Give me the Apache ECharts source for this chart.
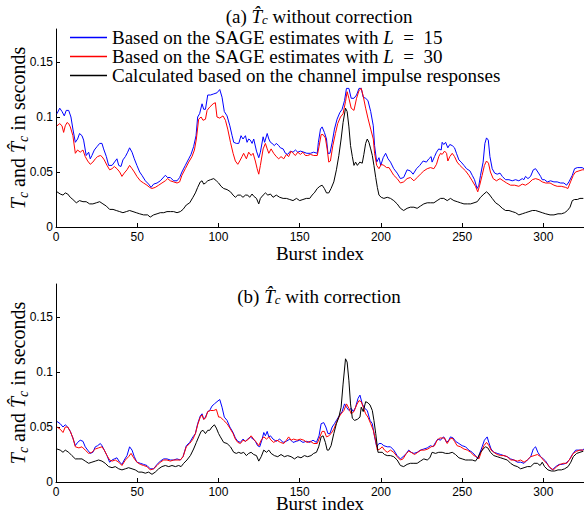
<!DOCTYPE html>
<html><head><meta charset="utf-8">
<script src="https://cdn.jsdelivr.net/npm/echarts@6/dist/echarts.min.js"></script>
<style>html,body{margin:0;padding:0;background:#fff}#c{width:584px;height:512px}</style>
</head><body><div id="c"></div>
<script>
// ---------- data ----------
const seriesNames = [
  'Based on the SAGE estimates with L = 15',
  'Based on the SAGE estimates with L = 30',
  'Calculated based on the channel impulse responses'
];
const seriesColors = ['#0000ff', '#ff0000', '#000000'];
const xTicks = [0, 50, 100, 150, 200, 250, 300];
const yTicks = [0, 0.05, 0.1, 0.15];
const xMax = 325;
const yMax = 0.18;

// (a) without correction  [burst index, seconds]
const topBlue = [[0.6,0.103],[2.3,0.108],[3.7,0.105],[5.1,0.101],[6.3,0.106],[7.8,0.106],[9.2,0.100],[10.4,0.089],[11.9,0.077],[13.3,0.080],[14.5,0.085],[16,0.083],[17,0.079],[18.6,0.065],[20.1,0.068],[21.1,0.062],[22.1,0.065],[23.6,0.070],[25.2,0.073],[26.9,0.076],[28.3,0.076],[29.3,0.071],[31,0.064],[32.4,0.056],[34.5,0.056],[36.5,0.060],[37.5,0.062],[38.6,0.056],[40,0.055],[41.2,0.061],[42.7,0.064],[44.1,0.068],[45.3,0.072],[46.8,0.068],[48.2,0.062],[49.8,0.056],[51.5,0.050],[52.9,0.047],[55,0.042],[57,0.039],[58.5,0.036],[60.1,0.039],[62.2,0.040],[64.2,0.042],[67.3,0.047],[68.7,0.045],[70.4,0.045],[72.4,0.042],[74.5,0.042],[76.1,0.045],[77.5,0.050],[79.6,0.056],[81.7,0.062],[83.1,0.066],[84.7,0.073],[86.2,0.083],[87.2,0.100],[88.4,0.103],[89.9,0.112],[90.9,0.107],[92,0.107],[93.4,0.120],[95.1,0.120],[97.1,0.121],[99.1,0.122],[100.8,0.125],[102.2,0.118],[103.6,0.105],[105.3,0.101],[107,0.092],[108.4,0.083],[109.4,0.077],[111,0.076],[112.5,0.076],[113.9,0.083],[115.1,0.080],[116.6,0.083],[117.6,0.077],[118.6,0.080],[119.6,0.079],[120.7,0.076],[121.7,0.080],[123.4,0.069],[124.8,0.063],[125.8,0.068],[127.5,0.082],[128.4,0.077],[130,0.085],[131,0.080],[132,0.077],[133,0.076],[134.4,0.074],[135.6,0.076],[137.1,0.074],[138.1,0.072],[139.8,0.071],[141.2,0.067],[142.6,0.066],[144.3,0.069],[145.9,0.068],[147.4,0.070],[148.8,0.068],[150.4,0.069],[152.6,0.068],[154.4,0.067],[156.6,0.067],[158.6,0.068],[160.8,0.067],[161.5,0.077],[162.8,0.089],[163.8,0.091],[165.2,0.086],[166.5,0.080],[167.4,0.067],[168.6,0.067],[170,0.077],[171.4,0.089],[173,0.098],[174.7,0.104],[176.1,0.107],[177.6,0.115],[178.8,0.126],[180.3,0.126],[181.7,0.117],[183.4,0.117],[185,0.120],[186.5,0.126],[187.9,0.126],[189.1,0.118],[190.6,0.117],[192,0.115],[193.7,0.105],[195.3,0.092],[196.1,0.074],[197.4,0.059],[198.8,0.063],[199.9,0.056],[201.4,0.063],[202.9,0.067],[204.4,0.062],[205.9,0.059],[207.9,0.053],[210,0.049],[212,0.044],[214,0.045],[216.1,0.052],[218.1,0.051],[219.8,0.048],[221.9,0.053],[223.9,0.056],[226,0.060],[228,0.059],[229.5,0.062],[230.9,0.064],[231.5,0.059],[233,0.064],[234.2,0.068],[235.6,0.071],[237.1,0.070],[237.7,0.077],[238.7,0.075],[239.8,0.077],[241.2,0.072],[242.4,0.075],[243.9,0.074],[245.3,0.072],[246.5,0.067],[248,0.061],[249.4,0.059],[251.1,0.056],[252.7,0.053],[254.8,0.051],[256.2,0.047],[257.6,0.043],[259.2,0.035],[260.3,0.038],[261.3,0.047],[262.9,0.059],[264,0.076],[265,0.081],[266.1,0.079],[267.1,0.064],[268.5,0.053],[270,0.049],[271.6,0.048],[273.3,0.049],[274.7,0.046],[276.7,0.043],[278.8,0.043],[280.8,0.042],[282.9,0.043],[284.9,0.042],[287,0.044],[288,0.043],[289,0.046],[290.5,0.044],[292.1,0.046],[293.8,0.052],[295.2,0.053],[296.6,0.050],[298.3,0.046],[299.3,0.043],[300.7,0.043],[302.4,0.041],[304.4,0.042],[306.5,0.041],[308.5,0.041],[310.6,0.040],[312.6,0.040],[314.3,0.038],[315.7,0.041],[317.8,0.047],[319.2,0.053],[320.9,0.054],[322.5,0.054],[323.9,0.054],[325,0.053]];
const topRed = [[0.6,0.092],[2.3,0.094],[3.7,0.092],[4.7,0.086],[5.7,0.092],[6.8,0.095],[7.8,0.094],[8.8,0.091],[10.4,0.083],[11.9,0.067],[13.3,0.070],[14.9,0.068],[16.6,0.070],[18,0.064],[19.5,0.060],[21.1,0.057],[22.7,0.059],[24.2,0.062],[25.6,0.064],[27.3,0.065],[28.3,0.064],[29.7,0.061],[31.4,0.056],[33,0.052],[34.5,0.053],[35.9,0.055],[37.5,0.053],[39.2,0.050],[40.6,0.046],[42,0.049],[43.7,0.052],[45.3,0.056],[46.8,0.053],[48.2,0.050],[49.8,0.046],[51.9,0.042],[53.9,0.040],[56,0.038],[57.6,0.036],[59,0.035],[61.1,0.036],[63.2,0.038],[65.2,0.040],[67.3,0.042],[68.7,0.044],[70.4,0.042],[72.4,0.041],[74.5,0.040],[76.1,0.041],[77.5,0.047],[79.6,0.053],[81.7,0.059],[83.7,0.064],[85.2,0.070],[86.4,0.080],[87.8,0.098],[89.3,0.100],[90.5,0.097],[92,0.098],[93,0.106],[94.6,0.109],[96.7,0.112],[98.1,0.113],[99.1,0.100],[100.8,0.099],[102.8,0.101],[104.3,0.097],[105.7,0.089],[107.4,0.077],[109,0.067],[110.4,0.060],[111.9,0.057],[113.1,0.060],[114.5,0.064],[115.5,0.067],[117.2,0.062],[118.6,0.068],[120.1,0.065],[121.3,0.067],[122.7,0.060],[123.8,0.053],[124.8,0.048],[125.8,0.056],[127.5,0.071],[128.9,0.076],[130,0.071],[131,0.067],[132.4,0.071],[134,0.067],[135.6,0.064],[137.1,0.062],[138.5,0.064],[140.2,0.062],[141.8,0.066],[143.2,0.064],[144.7,0.069],[145.9,0.067],[147.4,0.065],[148.8,0.068],[150.4,0.066],[152,0.068],[153.5,0.065],[154.9,0.065],[156.6,0.066],[158.6,0.065],[160.8,0.065],[161.9,0.073],[163.2,0.084],[164.4,0.084],[165.8,0.081],[166.9,0.071],[167.9,0.059],[168.9,0.060],[170.4,0.074],[172,0.085],[173.4,0.094],[175.1,0.100],[176.7,0.103],[178.2,0.114],[179.2,0.123],[180.3,0.117],[181.7,0.108],[183.4,0.106],[185,0.117],[186.5,0.124],[187.9,0.126],[189.1,0.119],[190.6,0.108],[192,0.099],[193.7,0.089],[195.3,0.080],[196.1,0.067],[197.4,0.056],[198.8,0.053],[200.2,0.057],[201.8,0.056],[203.5,0.054],[205,0.054],[207.9,0.047],[210,0.044],[212,0.040],[214,0.041],[216.1,0.044],[218.1,0.045],[220.3,0.042],[222.3,0.045],[224.3,0.048],[226.4,0.051],[228.5,0.053],[230.5,0.054],[232.6,0.053],[234.2,0.057],[235.6,0.064],[236.7,0.067],[237.7,0.066],[239.2,0.069],[240.4,0.067],[241.2,0.060],[242.4,0.064],[243.9,0.067],[245.3,0.064],[246.9,0.059],[248.6,0.056],[250,0.054],[252.1,0.051],[254.1,0.047],[256.2,0.042],[258.2,0.037],[259.6,0.032],[260.8,0.038],[262.3,0.047],[263.7,0.056],[265,0.060],[266.2,0.058],[267.4,0.050],[269.1,0.044],[271.1,0.042],[273.3,0.044],[275.3,0.042],[277.4,0.040],[279.8,0.038],[282.3,0.038],[284.9,0.037],[287,0.039],[289,0.038],[291.1,0.040],[293.2,0.043],[295.2,0.044],[297.3,0.043],[299.3,0.041],[301.4,0.040],[304.1,0.040],[306.5,0.038],[308.5,0.037],[311,0.037],[313.7,0.036],[315.1,0.035],[316.7,0.041],[318.4,0.047],[319.8,0.050],[321.9,0.051],[323.9,0.052],[325,0.052]];
const topBlack = [[0.6,0.032],[2.6,0.030],[4.3,0.029],[5.7,0.031],[7.2,0.030],[8.8,0.027],[10.4,0.025],[12.5,0.022],[14.5,0.024],[16.6,0.023],[18.6,0.023],[20.7,0.021],[22.7,0.021],[24.8,0.022],[26.9,0.023],[28.9,0.021],[31,0.019],[33,0.016],[35.1,0.016],[37.1,0.015],[39.2,0.014],[41.2,0.013],[43.3,0.014],[45.3,0.015],[47.4,0.014],[49.4,0.013],[51.5,0.012],[53.9,0.011],[56.4,0.011],[58,0.009],[60.1,0.011],[62.2,0.012],[64.2,0.013],[66.3,0.013],[68.3,0.014],[70.4,0.014],[72.4,0.014],[74.5,0.013],[76.5,0.014],[78.2,0.016],[80.2,0.020],[82.3,0.022],[84.3,0.027],[85.8,0.031],[87.2,0.036],[88.8,0.041],[89.9,0.042],[90.9,0.039],[92,0.040],[93.4,0.042],[95.1,0.043],[97.1,0.044],[98.7,0.042],[100.1,0.040],[101.6,0.037],[103.2,0.035],[105.3,0.034],[107.4,0.032],[109,0.029],[110.4,0.027],[111.9,0.029],[113.5,0.029],[115.1,0.027],[116.6,0.029],[118,0.029],[119.2,0.027],[120.7,0.030],[121.7,0.028],[123.4,0.026],[124.8,0.021],[125.8,0.026],[127.5,0.029],[128.9,0.031],[130.4,0.029],[132,0.030],[133.6,0.027],[135.6,0.029],[137.7,0.027],[139.8,0.026],[141.8,0.026],[143.9,0.025],[145.9,0.024],[148,0.026],[150,0.024],[152,0.025],[154.1,0.026],[156.2,0.026],[157.6,0.029],[159,0.031],[160.8,0.035],[162.4,0.037],[163.8,0.038],[165.2,0.035],[166.5,0.031],[167.9,0.031],[169.3,0.035],[171,0.041],[172.6,0.052],[174.1,0.065],[175.5,0.080],[176.7,0.095],[178.2,0.108],[179.2,0.105],[180.3,0.091],[181.3,0.074],[182.4,0.064],[183.4,0.056],[184.4,0.059],[185.5,0.056],[187,0.059],[188.5,0.058],[189.5,0.066],[190.6,0.076],[191.6,0.080],[192.6,0.077],[193.7,0.071],[194.7,0.065],[195.7,0.056],[196.8,0.045],[197.8,0.036],[198.8,0.029],[200.2,0.027],[201.8,0.026],[203.9,0.027],[205.9,0.026],[207.9,0.024],[210,0.021],[212,0.017],[214,0.015],[216.1,0.017],[218.1,0.018],[220.3,0.018],[222.3,0.017],[224.3,0.019],[226.4,0.021],[228.5,0.022],[230.5,0.022],[232.6,0.022],[234.6,0.024],[236.7,0.026],[238.7,0.026],[240.8,0.024],[242.8,0.026],[244.9,0.024],[247,0.023],[249,0.022],[251.1,0.021],[253.2,0.021],[255.2,0.021],[257.3,0.022],[259.3,0.023],[261.3,0.027],[263.4,0.030],[265,0.032],[266.5,0.030],[268.5,0.026],[270.6,0.022],[272.6,0.020],[274.7,0.017],[276.7,0.015],[278.8,0.015],[280.8,0.014],[282.9,0.013],[284.9,0.011],[287,0.012],[289,0.013],[291.1,0.014],[293.2,0.015],[295.2,0.015],[297.3,0.014],[299.3,0.013],[301.4,0.012],[304.1,0.011],[306.5,0.011],[309,0.012],[311.1,0.012],[313.1,0.013],[314.8,0.015],[316.4,0.018],[317.8,0.024],[319.2,0.025],[320.9,0.025],[322.5,0.026],[324.6,0.026]];

// (b) with correction
const botBlue = [[0.6,0.055],[2.6,0.053],[4.3,0.050],[5.7,0.052],[7.2,0.050],[8.8,0.046],[10.4,0.040],[11.9,0.033],[13.3,0.036],[14.9,0.038],[16.6,0.037],[18,0.032],[19.5,0.029],[21.1,0.026],[22.7,0.027],[24.2,0.032],[25.6,0.033],[27.3,0.035],[28.3,0.033],[29.7,0.029],[31.4,0.024],[33,0.018],[34.5,0.020],[35.9,0.021],[37.5,0.022],[39.2,0.018],[40.6,0.016],[42,0.020],[43.7,0.024],[45.3,0.032],[46.8,0.029],[48.2,0.023],[49.8,0.018],[51.9,0.017],[53.9,0.016],[56,0.015],[58,0.012],[60.1,0.012],[62.2,0.016],[64.2,0.019],[66.3,0.021],[68.3,0.021],[70.4,0.020],[72.4,0.020],[74.5,0.021],[76.5,0.020],[78.2,0.023],[80.2,0.033],[82.3,0.036],[84.3,0.041],[85.8,0.044],[87.2,0.053],[88.8,0.060],[89.9,0.062],[90.9,0.057],[92,0.059],[93.4,0.064],[94.6,0.065],[96,0.069],[97.5,0.071],[99.1,0.073],[100.8,0.075],[102.2,0.068],[103.6,0.059],[105.3,0.056],[107,0.050],[109,0.045],[110.4,0.040],[111.9,0.037],[113.5,0.036],[115.1,0.039],[116.6,0.037],[118,0.039],[119.6,0.041],[121.3,0.039],[122.7,0.037],[124.1,0.033],[125.4,0.032],[126.9,0.039],[127.9,0.045],[128.9,0.042],[130,0.046],[131,0.041],[132,0.042],[133.6,0.039],[135.6,0.037],[137.7,0.039],[139.8,0.036],[141.8,0.037],[143.9,0.039],[145.9,0.036],[148,0.037],[150,0.038],[152,0.036],[154.1,0.037],[156.2,0.036],[158.2,0.038],[160.3,0.036],[161.9,0.042],[163.2,0.053],[164.8,0.054],[166.1,0.050],[167.4,0.044],[168.6,0.044],[170,0.050],[171.4,0.053],[173,0.057],[174.7,0.061],[176.1,0.064],[177.6,0.071],[178.8,0.068],[180.3,0.065],[181.7,0.067],[183,0.064],[184.4,0.068],[185.9,0.076],[187.1,0.079],[188.5,0.071],[190,0.067],[191.6,0.065],[193.3,0.056],[194.7,0.053],[196.1,0.041],[197.4,0.032],[198.8,0.035],[200.2,0.035],[201.8,0.033],[203.9,0.032],[205.9,0.032],[207.9,0.029],[210,0.024],[212,0.021],[213.6,0.023],[215.7,0.026],[217.1,0.029],[218.6,0.027],[220.3,0.026],[222.3,0.027],[224.3,0.029],[226.4,0.030],[228.5,0.031],[230.5,0.033],[232.1,0.032],[233.6,0.036],[235,0.039],[236.7,0.038],[237.7,0.040],[238.7,0.041],[240.4,0.036],[241.8,0.038],[242.8,0.041],[244.5,0.040],[245.9,0.037],[248,0.035],[250,0.033],[252.1,0.032],[254.1,0.029],[256.2,0.027],[258.2,0.024],[259.6,0.021],[260.8,0.026],[262.3,0.032],[263.7,0.038],[265.4,0.041],[266.4,0.036],[267.8,0.030],[269.5,0.027],[271.6,0.026],[273.7,0.025],[275.7,0.024],[277.8,0.023],[279.8,0.021],[281.9,0.020],[284,0.018],[286,0.018],[288.1,0.017],[290.1,0.020],[292.2,0.023],[293.8,0.030],[295.2,0.032],[296.6,0.027],[298.3,0.023],[300,0.021],[301.4,0.019],[303.5,0.014],[305.5,0.011],[307.6,0.014],[309.7,0.016],[311.7,0.016],[313.8,0.017],[315.9,0.020],[317.8,0.025],[319.9,0.029],[322,0.029],[324,0.029],[325,0.030]];
const botRed = [[0.6,0.050],[2.6,0.048],[4.3,0.045],[5.7,0.050],[7.2,0.050],[8.8,0.046],[10.4,0.040],[11.9,0.032],[14.1,0.031],[16,0.032],[18,0.029],[20.1,0.026],[22.1,0.027],[24.2,0.030],[26.2,0.031],[28.3,0.032],[29.7,0.029],[31.4,0.024],[33,0.020],[34.5,0.019],[36.5,0.020],[38.6,0.018],[40.6,0.015],[42.7,0.020],[44.7,0.023],[46.2,0.026],[47.8,0.022],[49.8,0.018],[51.9,0.016],[53.9,0.015],[56,0.014],[58,0.011],[60.1,0.012],[62.2,0.015],[64.2,0.018],[66.3,0.020],[68.3,0.020],[70.4,0.019],[72.4,0.020],[74.5,0.020],[76.5,0.020],[78.2,0.023],[80.2,0.032],[82.3,0.035],[84.3,0.039],[85.8,0.044],[87.2,0.052],[88.8,0.059],[89.9,0.061],[90.9,0.057],[92,0.058],[93.4,0.064],[95.1,0.065],[97.1,0.065],[98.7,0.066],[100.1,0.059],[101.2,0.059],[103.2,0.056],[105.3,0.053],[107,0.049],[109,0.044],[110.4,0.039],[111.9,0.036],[113.5,0.035],[115.1,0.038],[116.6,0.037],[118.6,0.039],[120.1,0.042],[121.7,0.039],[123.4,0.036],[124.8,0.033],[126.3,0.038],[127.9,0.041],[129.6,0.039],[131,0.041],[132.4,0.038],[134,0.036],[136,0.038],[138.1,0.036],[140.2,0.035],[141.8,0.038],[143.2,0.041],[144.7,0.038],[146.3,0.039],[148.4,0.038],[150.4,0.039],[152.5,0.038],[154.5,0.036],[156.6,0.037],[158.6,0.035],[160.8,0.035],[162.4,0.041],[163.8,0.046],[165.2,0.046],[166.5,0.041],[167.9,0.042],[169.3,0.044],[171,0.048],[172.6,0.054],[174.1,0.059],[175.5,0.062],[177.2,0.065],[178.8,0.071],[180.3,0.067],[181.7,0.062],[183.4,0.064],[185,0.070],[186.5,0.074],[187.9,0.073],[189.1,0.068],[190.6,0.062],[192,0.059],[193.7,0.053],[195.3,0.047],[196.7,0.038],[197.8,0.029],[199.4,0.030],[200.8,0.032],[202.2,0.029],[203.9,0.027],[205.9,0.029],[207.9,0.027],[210,0.023],[212,0.020],[213.6,0.021],[215.7,0.026],[217.1,0.028],[218.6,0.027],[220.7,0.025],[222.7,0.027],[224.7,0.029],[226.8,0.029],[228.9,0.030],[230.9,0.032],[233,0.033],[234.6,0.038],[236.3,0.040],[237.7,0.040],[239.2,0.040],[240.8,0.035],[242.4,0.039],[243.9,0.040],[245.3,0.037],[246.9,0.033],[249,0.032],[251.1,0.030],[253.2,0.029],[255.2,0.027],[257.3,0.024],[258.9,0.023],[260.3,0.021],[261.7,0.027],[263.4,0.033],[265,0.036],[266.5,0.033],[267.8,0.029],[269.5,0.027],[271.6,0.025],[273.7,0.024],[275.7,0.024],[277.8,0.023],[279.8,0.020],[281.9,0.020],[284,0.019],[286,0.020],[288.1,0.018],[290.1,0.020],[292.2,0.023],[294.3,0.024],[296.3,0.025],[298.3,0.023],[300,0.020],[302,0.017],[304.1,0.013],[306.2,0.011],[308.2,0.014],[310.3,0.016],[312.3,0.017],[314.4,0.017],[316.4,0.021],[318.4,0.026],[320.5,0.028],[322.5,0.029],[324.6,0.029]];
const botBlack = [[0.6,0.030],[2.6,0.029],[4.3,0.027],[5.7,0.029],[7.8,0.027],[9.8,0.024],[11.9,0.021],[14.1,0.021],[16,0.021],[18,0.019],[20.1,0.017],[22.1,0.018],[24.2,0.019],[26.2,0.020],[28.3,0.019],[30.3,0.017],[32.4,0.014],[34.5,0.013],[36.5,0.014],[38.6,0.012],[40.6,0.011],[42.7,0.012],[44.7,0.013],[46.8,0.012],[48.8,0.011],[50.9,0.009],[52.9,0.009],[55,0.008],[57,0.009],[59.1,0.007],[61.1,0.009],[63.2,0.012],[65.2,0.014],[67.3,0.015],[69.4,0.014],[71.4,0.015],[73.5,0.014],[75.5,0.015],[77,0.014],[78.6,0.017],[80.6,0.020],[82.7,0.024],[84.7,0.030],[86.4,0.036],[87.8,0.041],[89.3,0.046],[90.5,0.047],[92,0.044],[93.4,0.047],[94.6,0.047],[96,0.050],[97.5,0.052],[98.7,0.049],[100.1,0.044],[101.2,0.041],[103.2,0.036],[105.3,0.035],[107.4,0.032],[109.4,0.027],[111,0.026],[112.5,0.027],[113.9,0.026],[115.5,0.027],[117.2,0.024],[118.6,0.026],[120.1,0.027],[121.7,0.025],[123.4,0.024],[124.8,0.019],[126.3,0.023],[127.9,0.029],[129.6,0.027],[131,0.029],[132.4,0.026],[134.4,0.024],[136.5,0.023],[138.5,0.025],[140.6,0.023],[142.6,0.024],[144.7,0.023],[146.8,0.021],[148.8,0.023],[150.8,0.022],[152.9,0.024],[154.9,0.023],[157,0.024],[158.6,0.026],[160.3,0.027],[161.7,0.032],[163.2,0.041],[164.4,0.042],[165.8,0.036],[166.9,0.029],[167.9,0.029],[169.3,0.033],[171,0.044],[172.6,0.053],[174.1,0.059],[175.5,0.068],[176.7,0.089],[178.2,0.112],[179.2,0.109],[180.3,0.092],[181.3,0.071],[182.4,0.058],[183.8,0.056],[185.5,0.057],[187.1,0.059],[187.9,0.068],[189.1,0.064],[190.6,0.073],[192,0.072],[193.3,0.070],[194.7,0.065],[195.7,0.056],[196.8,0.044],[198.2,0.027],[199.4,0.027],[200.8,0.027],[202.2,0.025],[203.9,0.024],[205.9,0.024],[207.9,0.023],[210,0.020],[212,0.015],[214,0.014],[216.1,0.016],[218.1,0.017],[220.3,0.017],[222.3,0.017],[224.3,0.019],[226.4,0.021],[228.5,0.020],[230.1,0.022],[231.5,0.027],[233.6,0.026],[235.6,0.027],[237.7,0.027],[239.8,0.026],[241.8,0.026],[243.9,0.027],[245.9,0.025],[248,0.022],[250,0.021],[252.1,0.020],[254.1,0.020],[256.2,0.020],[258.2,0.019],[259.6,0.022],[261.3,0.027],[262.9,0.030],[264.4,0.032],[265.8,0.031],[267.4,0.027],[269.5,0.024],[271.6,0.023],[273.7,0.022],[275.7,0.021],[277.8,0.020],[279.8,0.017],[281.9,0.015],[284,0.014],[286,0.012],[288.1,0.013],[290.1,0.014],[292.2,0.014],[294.3,0.017],[296.3,0.017],[298,0.015],[299.3,0.018],[300.7,0.014],[302.8,0.011],[304.9,0.010],[307,0.010],[309,0.011],[311.1,0.011],[313.1,0.012],[315.2,0.014],[316.9,0.018],[318.4,0.023],[320.5,0.026],[322.5,0.027],[324.6,0.028]];

// ---------- styles ----------
const SERIF = '"Liberation Serif", "Times New Roman", serif';
const SANS = '"Liberation Sans", Arial, sans-serif';
const nameRich = {
  n: { fontFamily: SERIF, fontSize: 20, color: '#000', lineHeight: 24 },
  i: { fontFamily: SERIF, fontSize: 20, fontStyle: 'italic', color: '#000', lineHeight: 24 },
  s: { fontFamily: SERIF, fontSize: 14, fontStyle: 'italic', color: '#000', lineHeight: 10, verticalAlign: 'bottom' }
};
const titleRich = {
  n: { fontFamily: SERIF, fontSize: 19, color: '#000', lineHeight: 20 },
  i: { fontFamily: SERIF, fontSize: 19, fontStyle: 'italic', color: '#000', lineHeight: 20 },
  s: { fontFamily: SERIF, fontSize: 13, fontStyle: 'italic', color: '#000', lineHeight: 7, verticalAlign: 'bottom' }
};
const yName = '{i|T}{s|c}{n| and }{i|T\u0302}{s|c}{n| in seconds}';

const chart = echarts.init(document.getElementById('c'), null, { renderer: 'svg', width: 584, height: 512 });

function xAxisCfg(gi, gap) {
  return {
    type: 'value', gridIndex: gi, min: 0, max: xMax, interval: 50,
    name: 'Burst index', nameLocation: 'middle', nameGap: gap, nameMoveOverlap: false,
    nameTextStyle: { fontFamily: SERIF, fontSize: 19, color: '#000', lineHeight: 18 },
    axisLine: { show: true, onZero: false, lineStyle: { color: '#000', width: 1 } },
    axisTick: { show: true, inside: true, length: 4, lineStyle: { color: '#000' }, customValues: xTicks },
    axisLabel: { show: true, margin: 4, color: '#000', fontFamily: SANS, fontSize: 12, customValues: xTicks },
    splitLine: { show: false }
  };
}
function yAxisCfg(gi) {
  return {
    type: 'value', gridIndex: gi, min: 0, max: yMax, interval: 0.05,
    name: yName, nameLocation: 'middle', nameRotate: 90, nameGap: 26, nameMoveOverlap: false,
    nameTextStyle: { rich: nameRich },
    axisLine: { show: true, lineStyle: { color: '#000', width: 1 } },
    axisTick: { show: true, inside: true, length: 4, lineStyle: { color: '#000' }, customValues: yTicks },
    axisLabel: { show: true, margin: 3, color: '#000', fontFamily: SANS, fontSize: 12, customValues: yTicks,
      formatter: v => String(+v.toFixed(2)) },
    splitLine: { show: false }
  };
}
function lineSeries(name, data, color, gi) {
  return {
    type: 'line', name: name, data: data, xAxisIndex: gi, yAxisIndex: gi,
    showSymbol: false, symbol: 'none', smooth: false,
    lineStyle: { color: color, width: 1 }, itemStyle: { color: color },
    animation: false, silent: true
  };
}

const legendRich = {
  n: { fontFamily: SERIF, fontSize: 19, color: '#000', lineHeight: 17.5 },
  i: { fontFamily: SERIF, fontSize: 19, fontStyle: 'italic', color: '#000', lineHeight: 17.5 }
};

chart.setOption({
  animation: false,
  backgroundColor: '#fff',
  grid: [
    { left: 56, right: 0, top: 29, height: 198, containLabel: false, outerBoundsMode: 'none' },
    { left: 56, right: 0, top: 284, height: 198, containLabel: false, outerBoundsMode: 'none' }
  ],
  xAxis: [xAxisCfg(0, 17), xAxisCfg(1, 12)],
  yAxis: [yAxisCfg(0), yAxisCfg(1)],
  legend: {
    data: seriesNames, orient: 'vertical', left: 70, top: 28, padding: 0,
    itemWidth: 37, itemHeight: 1.5, itemGap: 0, icon: 'rect', selectedMode: false,
    textStyle: { fontFamily: SERIF, fontSize: 19, color: '#000', lineHeight: 17.5, rich: legendRich },
    formatter: function (name) {
      const k = name.indexOf(' L = ');
      if (k < 0) return '{n|' + name + '}';
      return '{n|' + name.slice(0, k + 1) + '}{i|L}{n|\u2002=\u2002' + name.slice(k + 5) + '}';
    }
  },
  graphic: [
    { type: 'text', x: 319, y: 16, silent: true,
      style: { text: '{n|(a) }{i|T\u0302}{s|c}{n| without correction}', rich: titleRich, align: 'center', verticalAlign: 'middle' } },
    { type: 'text', x: 319, y: 296, silent: true,
      style: { text: '{n|(b) }{i|T\u0302}{s|c}{n| with correction}', rich: titleRich, align: 'center', verticalAlign: 'middle' } }
  ],
  series: [
    lineSeries(seriesNames[0], topBlue, seriesColors[0], 0),
    lineSeries(seriesNames[1], topRed, seriesColors[1], 0),
    lineSeries(seriesNames[2], topBlack, seriesColors[2], 0),
    lineSeries(seriesNames[0], botBlue, seriesColors[0], 1),
    lineSeries(seriesNames[1], botRed, seriesColors[1], 1),
    lineSeries(seriesNames[2], botBlack, seriesColors[2], 1)
  ]
});
</script>
</body></html>
